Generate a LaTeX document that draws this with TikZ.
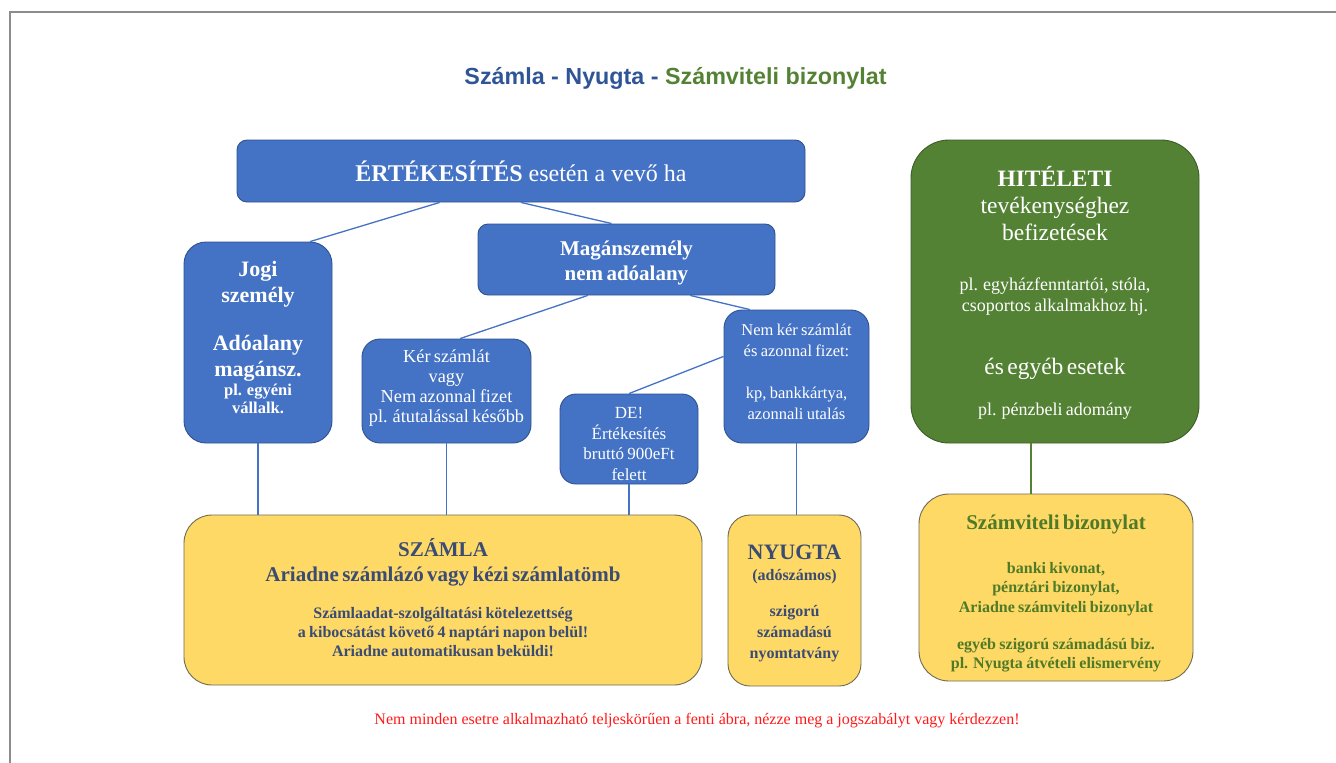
\documentclass[tikz,border=0pt]{standalone}
\usepackage{fontspec}
\setmainfont{Liberation Serif}
\setsansfont{Liberation Sans}
\usetikzlibrary{calc}
\definecolor{bfill}{HTML}{4472C4}
\definecolor{bline}{HTML}{2F528F}
\definecolor{gfill}{HTML}{548235}
\definecolor{gline}{HTML}{3B5E27}
\definecolor{yfill}{HTML}{FFD966}
\definecolor{yline}{HTML}{6E6A55}
\definecolor{ytext}{HTML}{3B4C74}
\definecolor{vtext}{HTML}{4F7A28}
\definecolor{tblue}{HTML}{2F5597}
\definecolor{tgreen}{HTML}{548235}
\definecolor{framecol}{HTML}{8C8C8C}
\definecolor{notered}{HTML}{FF1A1A}
\newcommand{\fsz}[2]{\fontsize{#1}{#2}\selectfont}
\begin{document}
\begin{tikzpicture}[x=1pt,y=-1pt,
  bluebox/.style={draw=bline, fill=bfill, line width=0.9pt, text=white, align=center, inner sep=0pt},
  greenbox/.style={draw=gline, fill=gfill, line width=0.9pt, text=white, align=center, inner sep=0pt},
  yellowbox/.style={draw=yline, fill=yfill, line width=0.9pt, align=center, inner sep=0pt},
  tx/.style={draw=none, fill=none, inner sep=0pt, align=center, text width=#1},
  conn/.style={draw=bfill, line width=1.3pt},
  gconn/.style={draw=gfill, line width=1.3pt}]
\useasboundingbox (0,0) rectangle (1336,763);
\draw[framecol, line width=1.3pt] (10,763) -- (10,12) -- (1336,12);

\node[font=\sffamily\bfseries\fsz{23.3}{27}] (title) at (675.5,78)
  {\textcolor{tblue}{Számla - Nyugta -} \textcolor{tgreen}{Számviteli bizonylat}};

\node[bluebox, rounded corners=10pt, minimum width=568pt, minimum height=62pt] (top) at (521,171)
  {\fsz{24}{28}\textbf{ÉRTÉKESÍTÉS} esetén a vevő ha};

\node[bluebox, rounded corners=22pt, minimum width=148pt, minimum height=201pt] (jogi) at (258,342.5) {};
\node[tx=146pt, text=white] (jogit) at ($(jogi.center)+(0,-5)$)
  {\bfseries\fsz{22}{26}Jogi\\személy\par\vspace{22pt}Adóalany\\magánsz.\par\fsz{16.5}{18.5}pl. egyéni\\vállalk.\par};

\node[bluebox, rounded corners=10pt, minimum width=297pt, minimum height=71pt] (magan) at (626.5,259.5) {};
\node[tx=290pt, text=white] (magant) at ($(magan.center)+(0,3)$)
  {\bfseries\fsz{21}{25}Magánszemély\\nem adóalany\par};

\node[bluebox, rounded corners=18pt, minimum width=169pt, minimum height=104pt] (ker) at (446.5,391) {};
\node[tx=167pt, text=white] (kert) at ($(ker.center)+(0,-3)$)
  {\fsz{18.3}{20.2}Kér számlát\\vagy\\Nem azonnal fizet\\pl. átutalással később\par};

\node[bluebox, rounded corners=18pt, minimum width=145pt, minimum height=133pt] (nemker) at (796.5,376.5) {};
\node[tx=143pt, text=white] (nemkert) at ($(nemker.center)+(0,-5)$)
  {\fsz{16.5}{21}Nem kér számlát\\és azonnal fizet:\par\vspace{21pt}kp, bankkártya,\\azonnali utalás\par};

\node[bluebox, rounded corners=16pt, minimum width=138pt, minimum height=90pt] (de) at (629,439) {};
\node[tx=136pt, text=white] (det) at ($(de.center)+(0,5)$)
  {\fsz{17}{20.5}DE!\\Értékesítés\\bruttó 900eFt\\felett\par};

\node[greenbox, rounded corners=38pt, minimum width=288pt, minimum height=303pt] (hit) at (1055,291.5) {};
\node[tx=284pt, text=white] (hitt) at ($(hit.center)+(0,1.5)$)
  {\fsz{23.5}{27}\textbf{HITÉLETI}\\tevékenységhez\\befizetések\par\vspace{29pt}%
   \fsz{18}{21}pl. egyházfenntartói, stóla,\\csoportos alkalmakhoz hj.\par\vspace{36pt}%
   \fsz{23.5}{27}és egyéb esetek\par\vspace{20pt}%
   \fsz{18}{21}pl. pénzbeli adomány\par};

\node[yellowbox, rounded corners=28pt, minimum width=518pt, minimum height=170pt] (szamla) at (443,600) {};
\node[tx=510pt, text=ytext] (szamlat) at ($(szamla.center)+(0,-2)$)
  {\bfseries\fsz{21}{25}SZÁMLA\\Ariadne számlázó vagy kézi számlatömb\par\vspace{18pt}%
   \fsz{16}{19}Számlaadat-szolgáltatási kötelezettség\\a kibocsátást követő 4 naptári napon belül!\\Ariadne automatikusan beküldi!\par};

\node[yellowbox, rounded corners=22pt, minimum width=133pt, minimum height=171pt] (nyugta) at (794.5,600.5) {};
\node[tx=131pt, text=ytext] (nyugtat) at ($(nyugta.center)+(0,3)$)
  {\bfseries\fsz{22}{24}NYUGTA\par\fsz{16}{21}(adószámos)\par\vspace{15pt}szigorú\\számadású\\nyomtatvány\par};

\node[yellowbox, rounded corners=30pt, minimum width=274pt, minimum height=187pt] (szv) at (1056,587.5) {};
\node[tx=270pt, text=vtext] (szvt) at ($(szv.center)+(0,6)$)
  {\bfseries\fsz{21}{25}Számviteli bizonylat\par\vspace{24pt}%
   \fsz{16}{19.5}banki kivonat,\\pénztári bizonylat,\\Ariadne számviteli bizonylat\par\vspace{18pt}%
   egyéb szigorú számadású biz.\par\fsz{16}{18.5}pl. Nyugta átvételi elismervény\par};

\node[text=notered, font=\fsz{16}{19}] (note) at (697,721)
  {Nem minden esetre alkalmazható teljeskörűen a fenti ábra, nézze meg a jogszabályt vagy kérdezzen!};

\coordinate (t1) at ($(top.south west)!0.357!(top.south east)$);
\coordinate (j1) at ($(jogi.north west)!0.85!(jogi.north east)$);
\coordinate (m1) at ($(magan.north west)!0.45!(magan.north east)$);
\coordinate (m2) at ($(magan.south west)!0.37!(magan.south east)$);
\coordinate (k1) at ($(ker.north west)!0.58!(ker.north east)$);
\coordinate (m3) at ($(magan.south west)!0.714!(magan.south east)$);
\coordinate (n1) at ($(nemker.north west)!0.18!(nemker.north east)$);
\coordinate (n2) at ($(nemker.north west)!0.35!(nemker.south west)$);
\coordinate (h1) at ($(hit.south west)!0.417!(hit.south east)$);

\draw[conn] (t1) -- (j1);
\draw[conn] (top.south) -- (m1);
\draw[conn] (m2) -- (k1);
\draw[conn] (m3) -- (n1);
\draw[conn] (n2) -- (de.north);
\draw[conn] (jogi.south) -- (jogi.south |- szamla.north);
\draw[conn] (ker.south) -- (ker.south |- szamla.north);
\draw[conn] (de.south) -- (de.south |- szamla.north);
\draw[conn] (nemker.south) -- (nemker.south |- nyugta.north);
\draw[gconn] (h1) -- (h1 |- szv.north);
\end{tikzpicture}
\end{document}
